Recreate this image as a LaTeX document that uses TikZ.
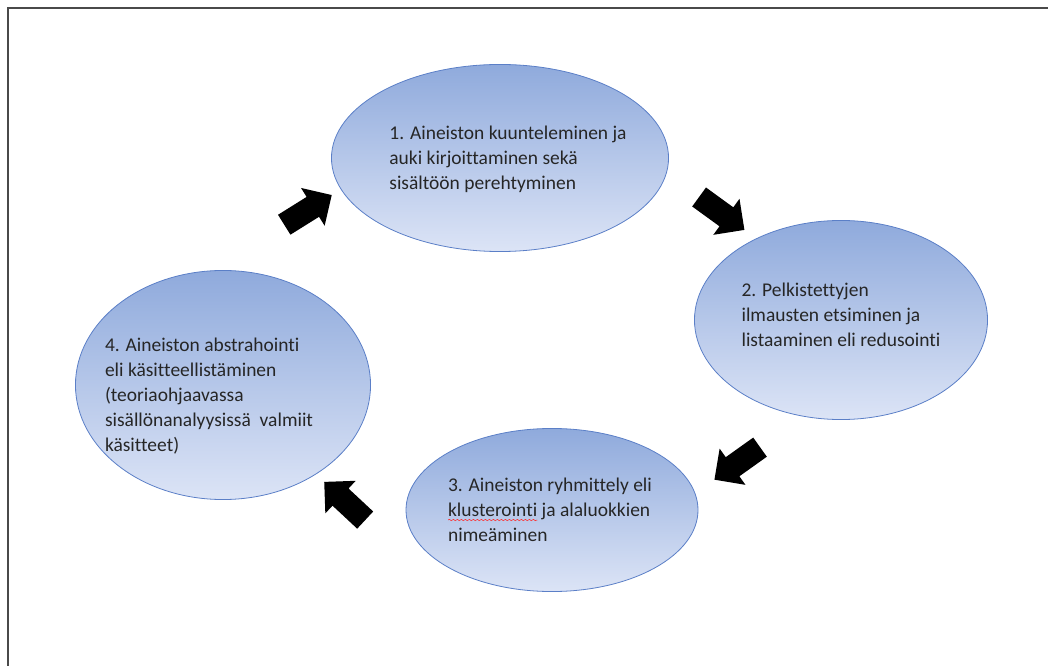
\documentclass[tikz,border=0pt]{standalone}
\usepackage{fontspec}
\setmainfont{Carlito}[Ligatures=NoCommon]
\usetikzlibrary{positioning,calc,shapes.geometric,shapes.arrows,decorations.pathmorphing}

\definecolor{ovalTop}{HTML}{8FAADC}
\definecolor{ovalBottom}{HTML}{DCE4F6}
\definecolor{ovalLine}{HTML}{5B7FC7}
\definecolor{frameLine}{HTML}{4A4A4A}

\newsavebox\waveBox
\newcommand\spellwave[1]{\sbox\waveBox{#1}\tikz[overlay,baseline=0pt]\draw[red!85, line width=0.4pt,
    decorate, decoration={snake, amplitude=0.5pt, segment length=3pt}] (0pt,-2.5pt) -- (\wd\waveBox,-2.5pt);\usebox\waveBox}

\tikzset{
    stage/.style={ellipse, draw=ovalLine, line width=0.6pt, top color=ovalTop, bottom color=ovalBottom, inner sep=0pt},
    stagetext/.style={inner sep=0pt, align=flush left, text=black!85, font=\fontsize{14.6pt}{18.8pt}\selectfont},
    blockarrow/.style={single arrow, fill=black, draw=none, inner xsep=0pt, inner ysep=8.6pt,
        single arrow head extend=7.9pt, minimum height=42pt}
}

\begin{document}
\begin{tikzpicture}[x=0.75pt,y=-0.75pt]
            % page
            \useasboundingbox (0,0) rectangle (1048,666);
            \coordinate (frameCorner) at (8,8);
            \draw[frameLine, line width=1.5pt] (frameCorner |- 0,666) -- (frameCorner) -- (1048,8);

            % stages
            \node[stage, minimum width=252.8pt, minimum height=140.3pt] (s1) at (500,158) {};
            \node[stage, minimum width=219.8pt, minimum height=149.3pt] (s2) at (841,320) {};
            \node[stage, minimum width=219pt, minimum height=122.3pt] (s3) at (552,510) {};
            \node[stage, minimum width=221.3pt, minimum height=171.8pt] (s4) at (223,385) {};

            \node[stagetext] (t1) at ($(s1) + (8,1)$)
                {1. Aineiston kuunteleminen ja\\auki kirjoittaminen sekä\\sisältöön perehtyminen};
            \node[stagetext] (t2) at ($(s2) + (0,-5)$)
                {2. Pelkistettyjen\\ilmausten etsiminen ja\\listaaminen eli redusointi};
            \node[stagetext] (t3) at ($(s3) + (-2,0)$)
                {3. Aineiston ryhmittely eli\\\spellwave{klusterointi} ja alaluokkien\\nimeäminen};
            \node[stagetext, text width=177pt] (t4) at ($(s4) + (0,11)$)
                {4. Aineiston abstrahointi\\eli käsitteellistäminen\\(teoriaohjaavassa\\sisällönanalyysissä\ \ valmiit\\käsitteet)};

            % arrows between stages
            \node[blockarrow, rotate=32] (a41) at (303,213) {};
            \node[blockarrow, rotate=-36] (a12) at (717,210) {};
            \node[blockarrow, rotate=215.5] (a23) at (742,460) {};
            \node[blockarrow, rotate=137] (a34) at (349,505) {};
        \end{tikzpicture}
\end{document}
